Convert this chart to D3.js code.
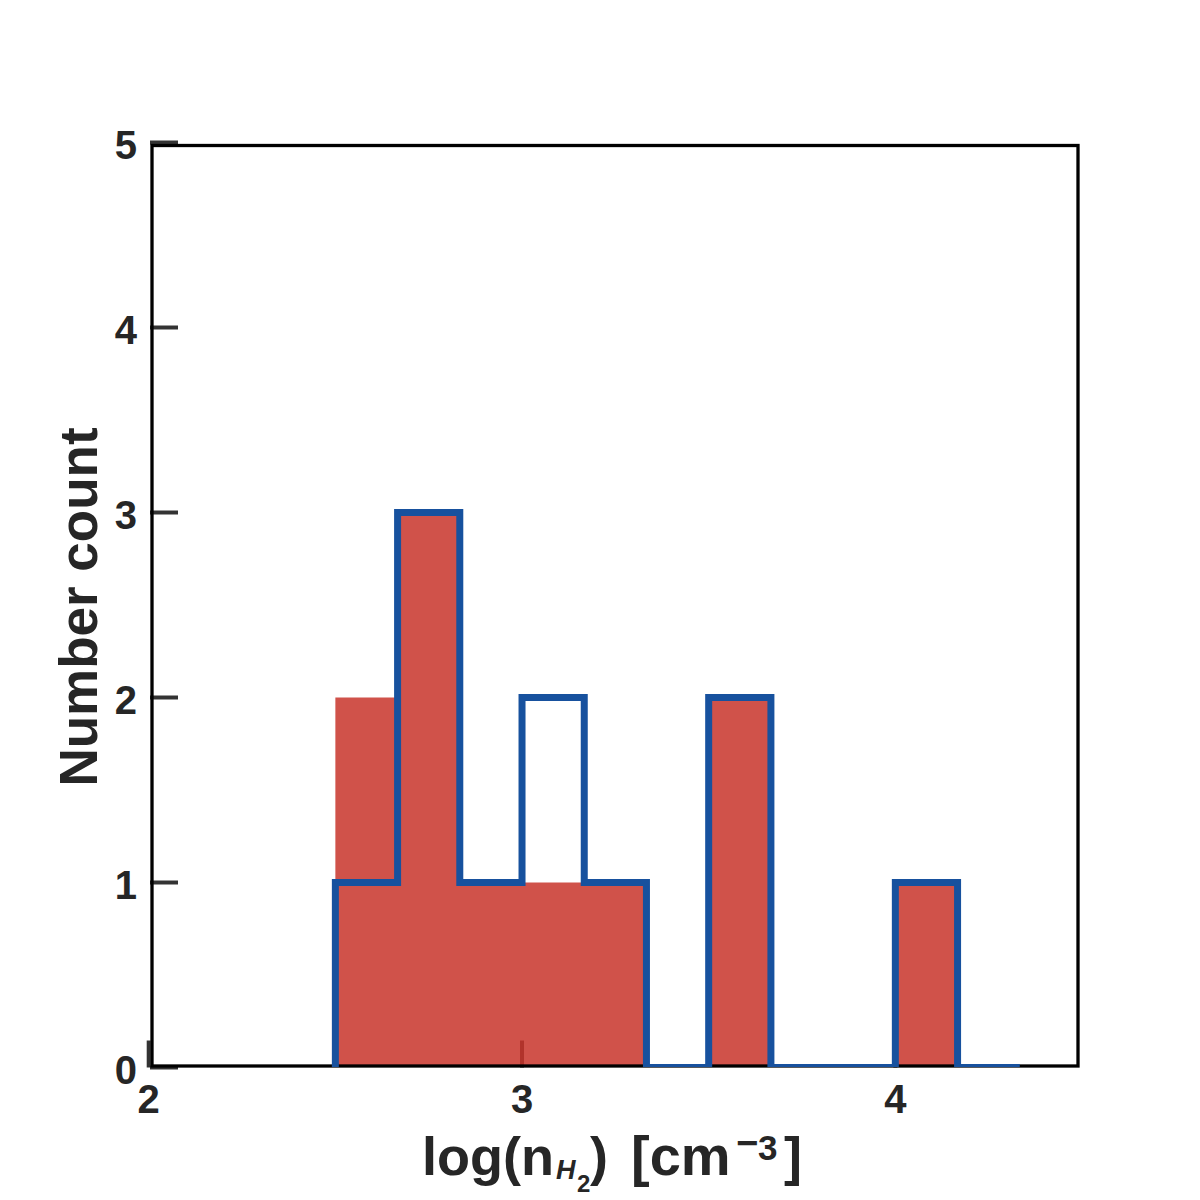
<!DOCTYPE html>
<html>
<head>
<meta charset="utf-8">
<script src="https://cdn.jsdelivr.net/npm/d3@7"></script>
<style>
  html, body { margin: 0; padding: 0; background: #fff; }
  svg text { font-family: "Liberation Sans", Arial, sans-serif; font-weight: bold; fill: #262626; }
</style>
</head>
<body>
<div id="chart"></div>
<script>
// Histogram bin edges (log n_H2), shared by both series.
const binEdges = [2.5, 2.6667, 2.8333, 3.0, 3.1667, 3.3333, 3.5, 3.6667, 3.8333, 4.0, 4.1667, 4.3333];
// Counts per bin: filled red sample and blue step outline.
const redCounts = [2, 3, 1, 1, 1, 0, 2, 0, 0, 1, 0];
const blueCounts = [1, 3, 1, 2, 1, 0, 2, 0, 0, 1, 0];
const xTicks = [2, 3, 4];
const yTicks = [0, 1, 2, 3, 4, 5];

(function(){
  const width = 1200, height = 1200;
  const svg = d3.select('#chart').append('svg')
    .attr('width', width).attr('height', height);

  // Scales tuned so ticks land where the reference puts them.
  const x = d3.scaleLinear().domain([2, 4.5]).range([148.7, 1082]);
  const y = d3.scaleLinear().domain([0, 5]).range([1067.5, 142.5]);
  const frame = {left: 152, right: 1078, top: 145.5, bottom: 1066};

  const bins = redCounts.map((c, i) => ({x0: binEdges[i], x1: binEdges[i + 1], red: c, blue: blueCounts[i]}));

  svg.append('defs').append('clipPath').attr('id', 'plot-clip')
    .append('rect')
    .attr('x', frame.left).attr('y', frame.top - 4)
    .attr('width', frame.right - frame.left).attr('height', frame.bottom - frame.top + 5);

  // Inward ticks (drawn first so the red bars tint them).
  const tickColor = '#333';
  svg.append('g').selectAll('line')
    .data(yTicks).join('line')
    .attr('x1', 150).attr('x2', 178)
    .attr('y1', d => y(d)).attr('y2', d => y(d))
    .attr('stroke', tickColor).attr('stroke-width', 4);
  svg.append('g').selectAll('line')
    .data(xTicks).join('line')
    .attr('x1', d => x(d)).attr('x2', d => x(d))
    .attr('y1', y(0)).attr('y2', y(0) - 27)
    .attr('stroke', tickColor).attr('stroke-width', 4);

  // Filled red histogram as one stepped area (no seams between bars).
  const redPts = [];
  bins.forEach(b => { redPts.push([b.x0, b.red]); redPts.push([b.x1, b.red]); });
  svg.append('path')
    .attr('clip-path', 'url(#plot-clip)')
    .attr('d', d3.area().x(d => x(d[0])).y0(y(0)).y1(d => y(d[1]))(redPts))
    .attr('fill', '#c8342a')
    .attr('fill-opacity', 0.85);

  // Axes frame.
  svg.append('rect')
    .attr('x', frame.left).attr('y', frame.top)
    .attr('width', frame.right - frame.left).attr('height', frame.bottom - frame.top)
    .attr('fill', 'none').attr('stroke', '#000').attr('stroke-width', 3.3);

  // Blue step outline.
  const stepPts = [[binEdges[0], 0]];
  bins.forEach(b => { stepPts.push([b.x0, b.blue]); stepPts.push([b.x1, b.blue]); });
  stepPts.push([binEdges[binEdges.length - 1], 0]);
  svg.append('path')
    .attr('clip-path', 'url(#plot-clip)')
    .attr('d', d3.line().x(d => x(d[0])).y(d => y(d[1]))(stepPts))
    .attr('fill', 'none')
    .attr('stroke', '#17519e')
    .attr('stroke-width', 7)
    .attr('stroke-linejoin', 'miter');

  // Tick labels.
  svg.append('g').selectAll('text')
    .data(yTicks).join('text')
    .attr('x', 137).attr('y', d => y(d) + 16.5)
    .attr('text-anchor', 'end')
    .style('font-size', '40px')
    .text(d => d);
  svg.append('g').selectAll('text')
    .data(xTicks).join('text')
    .attr('x', d => x(d)).attr('y', 1113)
    .attr('text-anchor', 'middle')
    .style('font-size', '40px')
    .text(d => d);

  // Y axis title.
  svg.append('text')
    .attr('transform', 'translate(97,607) rotate(-90)')
    .attr('text-anchor', 'middle')
    .style('font-size', '53px')
    .text('Number count');

  // X axis title with mathtext-like sub/superscripts.
  const xt = svg.append('text')
    .attr('y', 1175)
    .style('font-size', '54px');
  xt.append('tspan').attr('x', 422).text('log(n');
  xt.append('tspan').attr('x', 556).attr('y', 1179).style('font-size', '27px').style('font-style', 'italic').text('H');
  xt.append('tspan').attr('x', 577).attr('y', 1192).style('font-size', '24px').text('2');
  xt.append('tspan').attr('x', 590).attr('y', 1175).text(')');
  xt.append('tspan').attr('x', 631).attr('y', 1175).style('font-size', '56px').text('[cm');
  xt.append('tspan').attr('x', 736).attr('y', 1156).style('font-size', '38px').text('\u2212');
  xt.append('tspan').attr('x', 758).attr('y', 1160).style('font-size', '35px').text('3');
  xt.append('tspan').attr('x', 784).attr('y', 1175).text(']');
})();
</script>
</body>
</html>
